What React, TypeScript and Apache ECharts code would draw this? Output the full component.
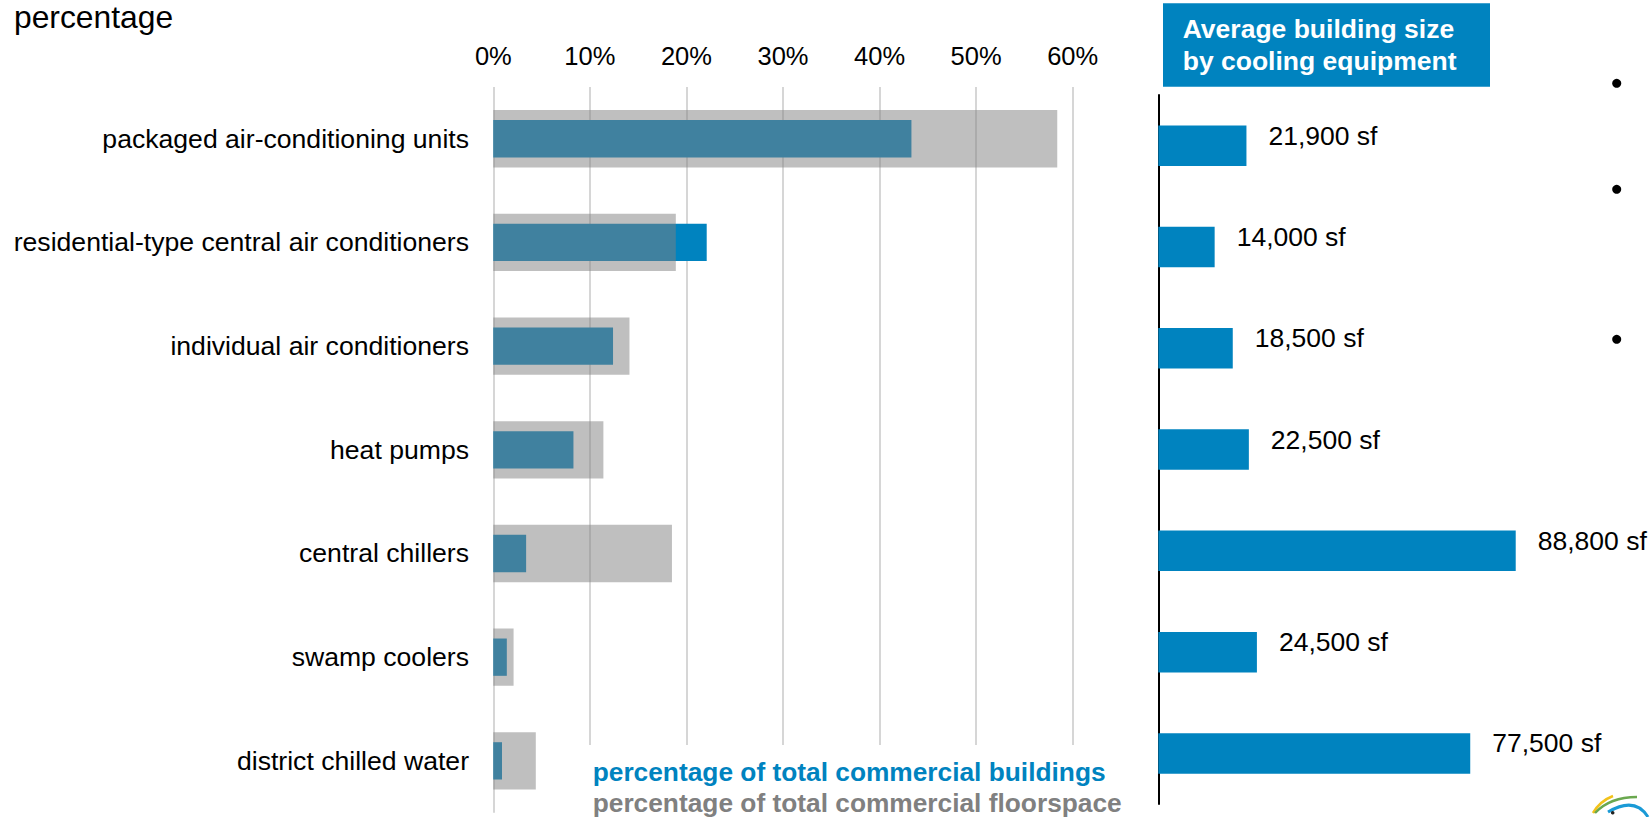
import React, { useEffect, useRef } from "react";
import * as echarts from "echarts";

const categories = [
  "packaged air-conditioning units",
  "residential-type central air conditioners",
  "individual air conditioners",
  "heat pumps",
  "central chillers",
  "swamp coolers",
  "district chilled water",
];
const buildingsPct = [43.3, 22.1, 12.4, 8.3, 3.4, 1.4, 0.9];
const floorspacePct = [58.4, 18.9, 14.1, 11.4, 18.5, 2.1, 4.4];
const avgSizeSf = [21900, 14000, 18500, 22500, 88800, 24500, 77500];
const pctMin = 0;
const pctMax = 60;
const pctStep = 10;

const FONT = '"Liberation Sans", Arial, sans-serif';
const BLUE = "#0083BF";

export default function App() {
  const ref = useRef<HTMLDivElement>(null);
  useEffect(() => {
    if (!ref.current) return;
    const chart = echarts.init(ref.current, null, { renderer: "svg" });
    chart.setOption({
      animation: false,
      backgroundColor: "#ffffff",
      textStyle: { fontFamily: FONT },
      grid: [
        { left: 493.3, top: 86.9, width: 579.4, height: 725.8 },
        { left: 1158.3, top: 95, width: 402.5, height: 709.1 },
      ],
      xAxis: [
        {
          gridIndex: 0,
          type: "value",
          position: "top",
          min: pctMin,
          max: pctMax,
          interval: pctStep,
          axisLine: { show: false },
          axisTick: { show: false },
          axisLabel: {
            formatter: "{value}%",
            fontSize: 25.5,
            color: "#000",
            margin: 18,
            fontFamily: FONT,
          },
          splitLine: { show: true, lineStyle: { color: "#d6d6d6", width: 2 } },
        },
        { gridIndex: 1, type: "value", min: 0, max: 100000, show: false },
      ],
      yAxis: [
        {
          gridIndex: 0,
          type: "category",
          data: categories,
          inverse: true,
          axisLine: { show: false },
          axisTick: { show: false },
          axisLabel: { fontSize: 26.6, color: "#000", margin: 24.3, fontFamily: FONT },
        },
        { gridIndex: 0, type: "category", data: categories, inverse: true, show: false },
        {
          gridIndex: 1,
          type: "category",
          data: categories,
          inverse: true,
          axisLine: { show: true, lineStyle: { color: "#000", width: 2 } },
          axisTick: { show: false },
          axisLabel: { show: false },
        },
      ],
      series: [
        {
          type: "bar",
          name: "percentage of total commercial buildings",
          xAxisIndex: 0,
          yAxisIndex: 0,
          data: buildingsPct,
          barWidth: 37.3,
          itemStyle: { color: BLUE },
        },
        {
          type: "bar",
          name: "percentage of total commercial floorspace",
          xAxisIndex: 0,
          yAxisIndex: 1,
          data: floorspacePct,
          barWidth: 57.3,
          itemStyle: { color: "rgba(127,127,127,0.5)" },
        },
        {
          type: "bar",
          name: "Average building size",
          xAxisIndex: 1,
          yAxisIndex: 2,
          data: avgSizeSf,
          barWidth: 40.5,
          itemStyle: { color: BLUE },
          label: {
            show: true,
            position: "right",
            distance: 22,
            offset: [0, -10],
            fontSize: 26.5,
            color: "#000",
            fontFamily: FONT,
            formatter: (p: any) => Number(p.value).toLocaleString("en-US") + " sf",
          },
        },
      ],
      graphic: [
        {
          type: "text",
          x: 14,
          y: 0,
          style: {
            text: "percentage",
            fontSize: 31.8,
            lineHeight: 34,
            fontFamily: FONT,
            fill: "#000",
            verticalAlign: "top",
          },
        },
        {
          type: "rect",
          shape: { x: 1163, y: 3.3, width: 327, height: 83.4 },
          style: { fill: BLUE },
        },
        {
          type: "text",
          x: 1182.7,
          y: 13,
          style: {
            text: "Average building size\nby cooling equipment",
            fontSize: 26.5,
            fontWeight: "bold",
            fontFamily: FONT,
            fill: "#fff",
            lineHeight: 32,
            verticalAlign: "top",
          },
        },
        {
          type: "rect",
          z: 10,
          shape: { x: 575, y: 745, width: 545, height: 72 },
          style: { fill: "#fff" },
        },
        {
          type: "text",
          z: 11,
          x: 592.7,
          y: 772,
          style: {
            text: "percentage of total commercial buildings",
            fontSize: 26.3,
            fontWeight: "bold",
            fontFamily: FONT,
            fill: BLUE,
            verticalAlign: "middle",
          },
        },
        {
          type: "text",
          z: 11,
          x: 592.7,
          y: 803,
          style: {
            text: "percentage of total commercial floorspace",
            fontSize: 26.3,
            fontWeight: "bold",
            fontFamily: FONT,
            fill: "#808080",
            verticalAlign: "middle",
          },
        },
        { type: "circle", shape: { cx: 1616.7, cy: 83.3, r: 4.5 }, style: { fill: "#000" } },
        { type: "circle", shape: { cx: 1616.7, cy: 189.3, r: 4.5 }, style: { fill: "#000" } },
        { type: "circle", shape: { cx: 1616.7, cy: 339.3, r: 4.5 }, style: { fill: "#000" } },
        {
          type: "bezierCurve",
          shape: { x1: 1593, y1: 813, x2: 1613, y2: 796, cpx1: 1600, cpy1: 801 },
          style: { stroke: "#F2C21B", lineWidth: 2.5, fill: "none" },
        },
        {
          type: "bezierCurve",
          shape: { x1: 1595, y1: 813, x2: 1637, y2: 797, cpx1: 1610, cpy1: 797 },
          style: { stroke: "#6AA84F", lineWidth: 2.5, fill: "none" },
        },
        {
          type: "bezierCurve",
          shape: { x1: 1608, y1: 812, x2: 1648, y2: 817, cpx1: 1635, cpy1: 796 },
          style: { stroke: "#1A9AD6", lineWidth: 3, fill: "none" },
        },
        { type: "circle", shape: { cx: 1612.7, cy: 812.7, r: 1.8 }, style: { fill: "#222" } },
      ],
    });
    return () => chart.dispose();
  }, []);
  return (
    <div
      ref={ref}
      style={{ position: "fixed", left: 0, top: 0, width: 1650, height: 817 }}
    />
  );
}
